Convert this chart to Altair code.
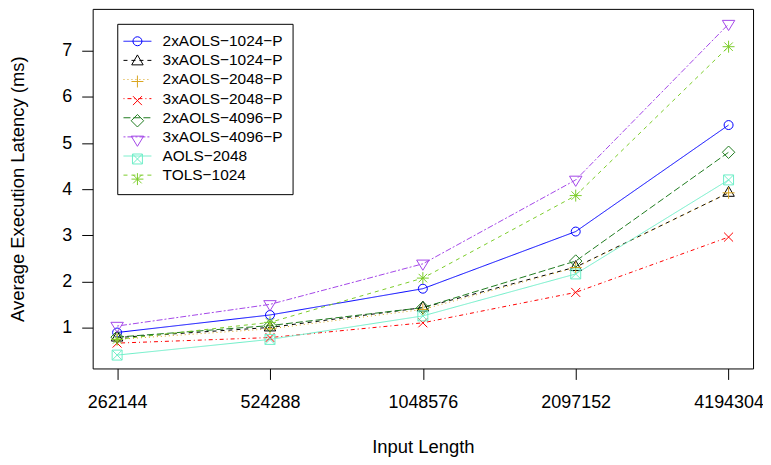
import altair as alt
import pandas as pd

x_labels = ["262144", "524288", "1048576", "2097152", "4194304"]
series_names = ["2xAOLS−1024−P", "3xAOLS−1024−P", "2xAOLS−2048−P", "3xAOLS−2048−P",
                "2xAOLS−4096−P", "3xAOLS−4096−P", "AOLS−2048", "TOLS−1024"]

v_2x1024 = [0.89, 1.27, 1.84, 3.08, 5.39]
v_3x1024 = [0.78, 1.00, 1.43, 2.31, 3.92]
v_2x2048 = [0.74, 0.97, 1.39, 2.30, 3.92]
v_3x2048 = [0.66, 0.78, 1.10, 1.76, 2.96]
v_2x4096 = [0.79, 1.04, 1.43, 2.44, 4.80]
v_3x4096 = [1.03, 1.50, 2.38, 4.20, 7.58]
v_aols2048 = [0.40, 0.74, 1.25, 2.16, 4.20]
v_tols1024 = [0.74, 1.11, 2.07, 3.86, 7.09]

all_values = [v_2x1024, v_3x1024, v_2x2048, v_3x2048, v_2x4096, v_3x4096, v_aols2048, v_tols1024]

colors = ["#0000FF", "#000000", "#DAA520", "#FF0000", "#1E7B1E", "#A347E8", "#6EEEC8", "#7CCD2A"]
dashes = [[1, 0], [4, 4], [1, 3], [1, 3, 4, 3], [7, 3], [2, 2, 6, 2], [1, 0], [4, 4]]
shapes = [
    "M0.9,0A0.9,0.9,0,1,1,-0.9,0A0.9,0.9,0,1,1,0.9,0Z",
    "M0,-1.3L1.15,0.7L-1.15,0.7Z",
    "M-1.2,0H1.2M0,-1.2V1.2",
    "M-0.9,-0.9L0.9,0.9M-0.9,0.9L0.9,-0.9",
    "M0,-1.25L1.25,0L0,1.25L-1.25,0Z",
    "M0,1.3L1.25,-0.75L-1.25,-0.75Z",
    "M-1,-1H1V1H-1ZM-1,-1L1,1M-1,1L1,-1",
    "M-1.2,0H1.2M0,-1.2V1.2M-0.85,-0.85L0.85,0.85M-0.85,0.85L0.85,-0.85",
]

rows = []
for name, vals in zip(series_names, all_values):
    for xl, v in zip(x_labels, vals):
        rows.append({"len": xl, "latency": v, "series": name, "series2": name})
df = pd.DataFrame(rows)

FONT = "Liberation Sans"

common_legend = dict(
    title=None, orient="none", legendX=24.7, legendY=15, padding=9.75,
    rowPadding=2.2, symbolSize=100, symbolStrokeWidth=1, symbolOffset=2.75,
    labelOffset=17.5, labelFontSize=15.5, labelFont=FONT, labelLimit=400,
)
legend_a = alt.Legend(symbolType="M-2.8,0H2.8", strokeColor="black", fillColor="white",
                      labelColor="black", **common_legend)
legend_b = alt.Legend(labelOpacity=0, labelExpr="''", **common_legend)

x_scale = alt.Scale(type="point", padding=0.16)
y_scale = alt.Scale(domain=[0.11, 7.91], nice=False, zero=False)

x_enc = alt.X("len:N", sort=x_labels, scale=x_scale,
              axis=alt.Axis(title="Input Length", labelAngle=0, labelPadding=14,
                            titlePadding=26, tickSize=11, domain=True))
y_enc = alt.Y("latency:Q", scale=y_scale,
              axis=alt.Axis(title="Average Execution Latency (ms)", values=[1, 2, 3, 4, 5, 6, 7],
                            labelPadding=10, titlePadding=34, tickSize=11, domain=True))

x_enc_top = alt.X("len:N", sort=x_labels, scale=x_scale,
                  axis=alt.Axis(orient="top", labels=False, ticks=False, title=None, domain=True))
y_enc_right = alt.Y("latency:Q", scale=y_scale,
                    axis=alt.Axis(orient="right", labels=False, ticks=False, title=None, domain=True))

lines = alt.Chart(df).mark_line(strokeWidth=1).encode(
    x=x_enc, y=y_enc,
    color=alt.Color("series:N", scale=alt.Scale(domain=series_names, range=colors), legend=legend_a),
    strokeDash=alt.StrokeDash("series:N", scale=alt.Scale(domain=series_names, range=dashes), legend=legend_a),
)

points = alt.Chart(df).mark_point(filled=False, strokeWidth=1, size=100, opacity=1).encode(
    x=x_enc_top, y=y_enc_right,
    color=alt.Color("series2:N", scale=alt.Scale(domain=series_names, range=colors), legend=legend_b),
    shape=alt.Shape("series2:N", scale=alt.Scale(domain=series_names, range=shapes), legend=legend_b),
)

chart = alt.layer(lines, points).resolve_scale(
    x="independent", y="independent",
    color="independent", shape="independent", strokeDash="independent"
).properties(
    width=663, height=361,
    autosize=alt.AutoSizeParams(type="none"),
    padding={"left": 85, "top": 0, "right": 10, "bottom": 88},
).configure_view(
    stroke=None
).configure_axis(
    grid=False, domainColor="black", domainWidth=1, tickColor="black", tickWidth=1,
    labelFont=FONT, titleFont=FONT, labelFontSize=18, titleFontSize=18.5,
    labelColor="black", titleColor="black", titleFontWeight="normal",
)

chart.save("out.html", embed_options={"renderer": "svg", "actions": False})
